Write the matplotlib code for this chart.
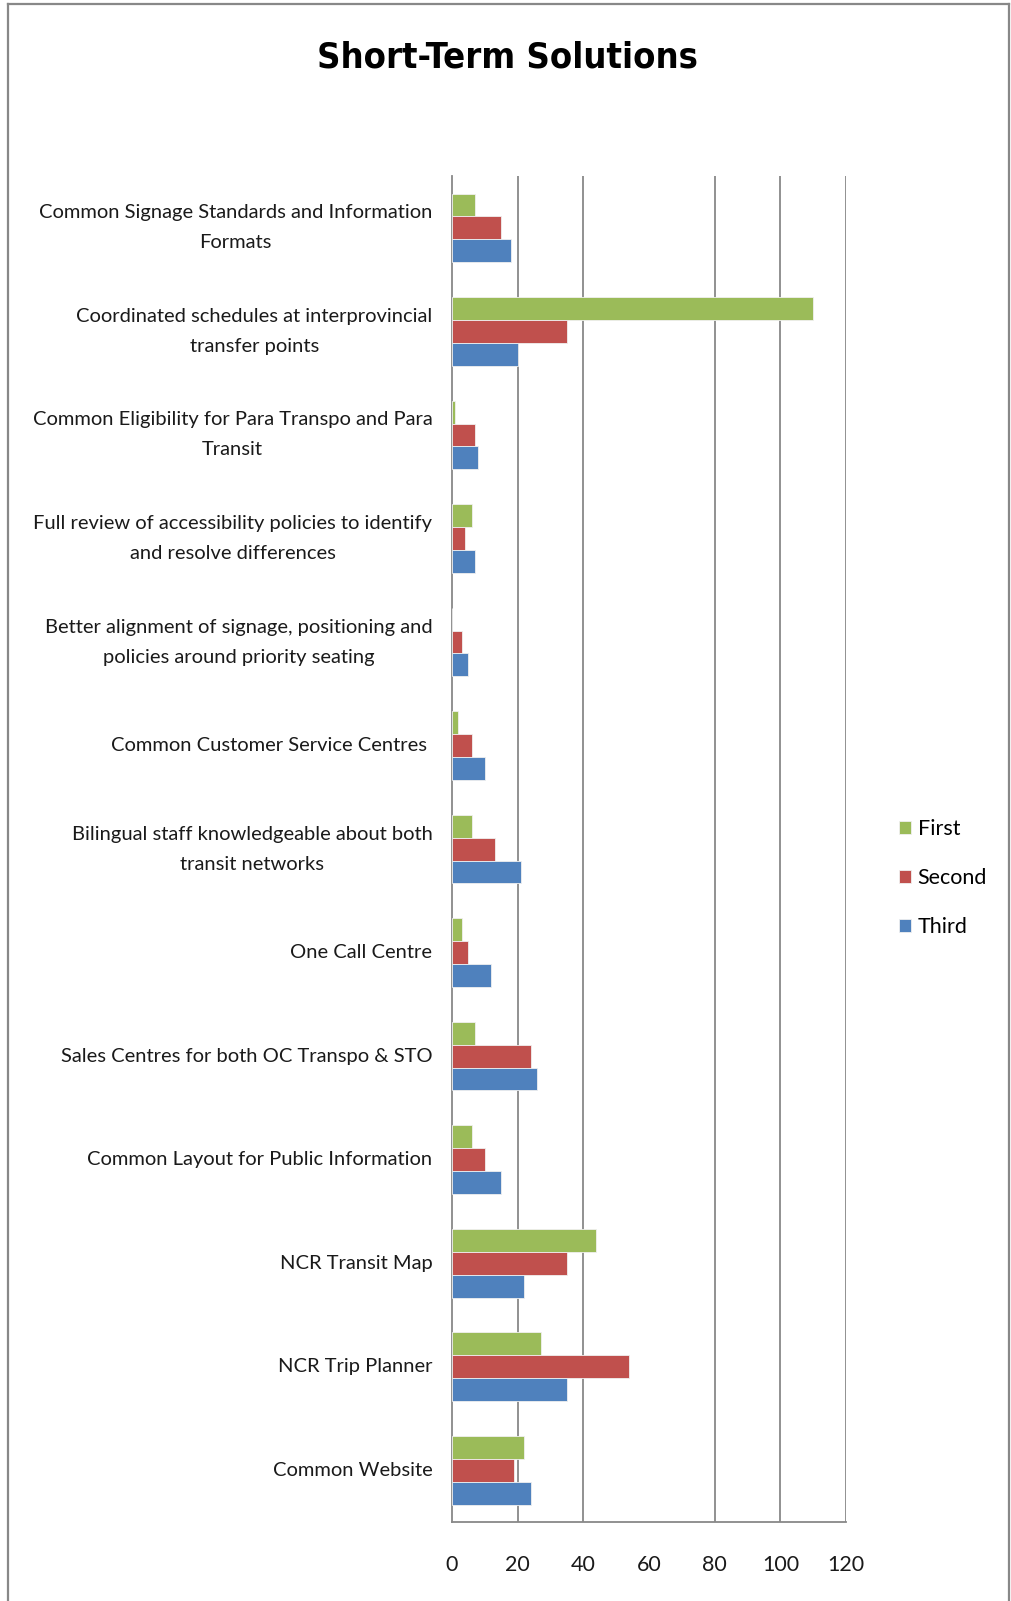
import numpy as np
import matplotlib.pyplot as plt
from matplotlib.lines import Line2D

# categories, top to bottom
categories = [
    "Common Signage Standards and Information\nFormats",
    "Coordinated schedules at interprovincial\ntransfer points",
    "Common Eligibility for Para Transpo and Para\nTransit",
    "Full review of accessibility policies to identify\nand resolve differences",
    "Better alignment of signage, positioning and\npolicies around priority seating",
    "Common Customer Service Centres ",
    "Bilingual staff knowledgeable about both\ntransit networks",
    "One Call Centre",
    "Sales Centres for both OC Transpo & STO",
    "Common Layout for Public Information",
    "NCR Transit Map",
    "NCR Trip Planner",
    "Common Website",
]

first = [7, 110, 1, 6, 0, 2, 6, 3, 7, 6, 44, 27, 22]
second = [15, 35, 7, 4, 3, 6, 13, 5, 24, 10, 35, 54, 19]
third = [18, 20, 8, 7, 5, 10, 21, 12, 26, 15, 22, 35, 24]

series_names = ['First', 'Second', 'Third']
colors = ['#9BBB59', '#C0504D', '#4F81BD']

xticks = [0, 20, 40, 60, 80, 100, 120]
grid_x = [20, 40, 80, 100, 120]  # the 60 line is not drawn in the original

plt.rcParams['font.family'] = ['Lato', 'DejaVu Sans']

fig = plt.figure(figsize=(10.11, 16.01), dpi=100)
ax = fig.add_axes([0.447, 0.0493, 0.390, 0.8407])

n = len(categories)
y = np.arange(n)
h = 0.221

for i, (vals, name, c) in enumerate(zip([first, second, third], series_names, colors)):
    ax.barh(y + (i - 1) * h, vals, height=h, color=c, label=name,
            edgecolor='#f0f0f0', linewidth=0.6, zorder=3)

for gx in grid_x:
    ax.axvline(gx, color='#888888', linewidth=1.3, zorder=1)

ax.set_ylim(n - 0.5, -0.5)
ax.set_xlim(0, 120)
ax.set_yticks(y)
ax.set_yticklabels(categories, fontsize=14.5, color='#1a1a1a', linespacing=1.93,
                   multialignment='center')
for lbl in ax.get_yticklabels():
    lbl.set_va('center')
ax.set_xticks(xticks)
ax.set_xticklabels([str(v) for v in xticks], fontsize=15.5, color='#1a1a1a')
ax.tick_params(axis='y', length=0, pad=14)
ax.tick_params(axis='x', length=0, pad=24)

for s in ['top', 'right']:
    ax.spines[s].set_visible(False)
for s in ['left', 'bottom']:
    ax.spines[s].set_color('#888888')
    ax.spines[s].set_linewidth(1.3)

fig.text(0.502, 0.964, 'Short-Term Solutions', ha='center', va='center',
         fontsize=26, fontweight='bold', family='DejaVu Sans',
         fontstretch='condensed')

ax.legend(loc='center left', bbox_to_anchor=(0.879, 0.4516),
          bbox_transform=fig.transFigure, frameon=False, fontsize=15.5,
          handlelength=0.55, handleheight=0.55, handletextpad=0.3,
          labelspacing=1.34, borderpad=0)

# outer chart frame
fc = '#888888'
fig.add_artist(Line2D([8 / 1011, 8 / 1011], [0, 1 - 4 / 1601], color=fc, lw=1.6))
fig.add_artist(Line2D([8 / 1011, 1008.5 / 1011], [1 - 4 / 1601, 1 - 4 / 1601], color=fc, lw=1.6))
fig.add_artist(Line2D([1008.5 / 1011, 1008.5 / 1011], [0, 1 - 4 / 1601], color=fc, lw=1.6))

fig.savefig('out.png', dpi=100)
